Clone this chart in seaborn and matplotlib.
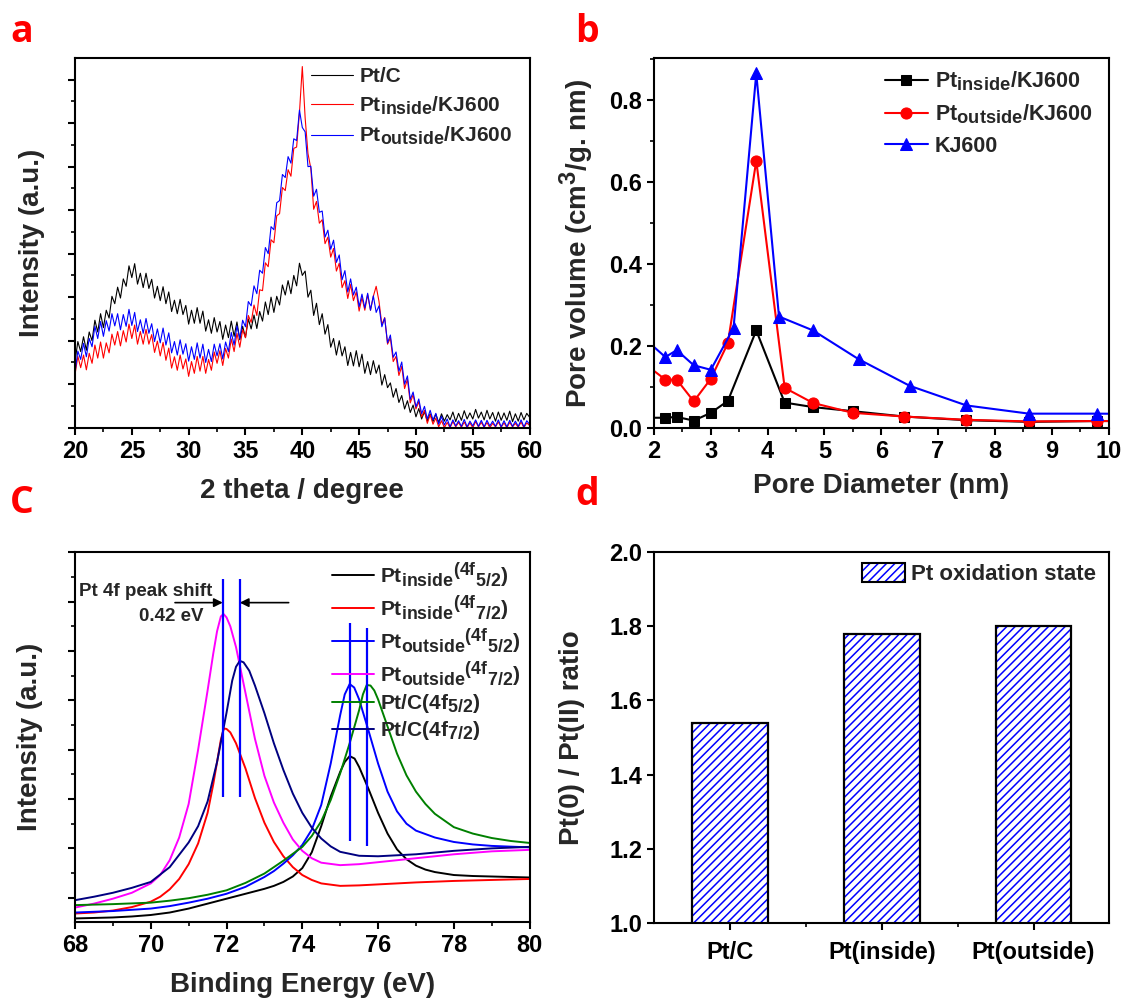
import numpy as np
import pandas as pd
import matplotlib
matplotlib.use("Agg")
import matplotlib.pyplot as plt
import matplotlib.patches as mpatches
from matplotlib.ticker import MultipleLocator, NullFormatter, FixedLocator, FormatStrFormatter
from matplotlib.legend_handler import HandlerTuple
import seaborn as sns

try:  # larger sub/superscripts, closer to the original figure
    import matplotlib._mathtext as _mt
    _mt.SHRINK_FACTOR = 0.85
except Exception:
    pass

# ------------------------------------------------------------------ data
# (a) XRD, 2theta from 20 to 60 in 0.25 deg steps
xrd_theta = np.arange(20, 60.001, 0.25)
xrd_ptc = [
    1.52, 1.98, 1.75, 2.09, 1.78, 2.20, 2.00, 2.47, 2.20, 2.62, 2.30, 2.70,
    2.52, 3.02, 2.85, 3.23, 2.98, 3.42, 3.25, 3.72, 3.45, 3.77, 3.30, 3.55,
    3.22, 3.55, 3.20, 3.41, 2.98, 3.25, 2.92, 3.24, 2.85, 3.12, 2.67, 2.93,
    2.62, 2.95, 2.60, 2.81, 2.38, 2.70, 2.40, 2.76, 2.40, 2.68, 2.22, 2.48,
    2.17, 2.53, 2.20, 2.44, 2.03, 2.36, 2.07, 2.45, 2.10, 2.43, 2.02, 2.33,
    2.07, 2.50, 2.27, 2.59, 2.28, 2.67, 2.45, 2.89, 2.60, 3.00, 2.65, 3.02,
    2.82, 3.28, 3.05, 3.38, 3.08, 3.50, 3.26, 3.78, 3.50, 3.60, 3.00, 3.16,
    2.58, 2.86, 2.37, 2.62, 2.15, 2.37, 1.85, 2.05, 1.67, 2.00, 1.65, 1.86,
    1.43, 1.73, 1.42, 1.77, 1.40, 1.69, 1.25, 1.52, 1.22, 1.54, 1.25, 1.44,
    0.98, 1.22, 0.92, 1.03, 0.70, 0.90, 0.58, 0.74, 0.43, 0.62, 0.35, 0.52,
    0.25, 0.44, 0.20, 0.37, 0.15, 0.32, 0.14, 0.31, 0.12, 0.32, 0.15, 0.30,
    0.18, 0.36, 0.14, 0.33, 0.17, 0.39, 0.20, 0.34, 0.20, 0.42, 0.22, 0.36,
    0.18, 0.40, 0.20, 0.35, 0.15, 0.36, 0.17, 0.34, 0.17, 0.38, 0.14, 0.32,
    0.15, 0.35, 0.18, 0.33, 0.24]
xrd_inside = [
    1.22, 1.64, 1.38, 1.67, 1.33, 1.71, 1.48, 1.90, 1.60, 1.97, 1.60, 1.95,
    1.72, 2.15, 1.90, 2.21, 1.88, 2.23, 1.97, 2.38, 2.05, 2.36, 1.92, 2.21,
    1.92, 2.26, 1.92, 2.14, 1.73, 1.99, 1.65, 1.96, 1.55, 1.83, 1.37, 1.63,
    1.32, 1.67, 1.35, 1.58, 1.18, 1.52, 1.25, 1.64, 1.30, 1.64, 1.25, 1.57,
    1.32, 1.74, 1.48, 1.77, 1.43, 1.82, 1.60, 2.04, 1.75, 2.17, 1.85, 2.25,
    2.07, 2.58, 2.42, 2.82, 2.58, 3.17, 3.15, 3.79, 3.70, 4.32, 4.25, 4.87,
    4.92, 5.52, 5.45, 5.93, 5.78, 6.42, 6.45, 7.24, 8.30, 7.12, 6.30, 5.96,
    5.02, 5.20, 4.70, 4.78, 4.23, 4.38, 3.92, 4.12, 3.60, 3.78, 3.22, 3.38,
    2.97, 3.29, 2.92, 3.12, 2.68, 2.99, 2.70, 3.06, 2.70, 3.02, 3.25, 2.90,
    2.37, 2.53, 1.92, 2.06, 1.52, 1.64, 1.20, 1.41, 0.90, 1.11, 0.57, 0.76,
    0.43, 0.60, 0.25, 0.40, 0.10, 0.30, 0.08, 0.22, 0.02, 0.16, 0.00, 0.12,
    0.00, 0.14, 0.02, 0.12, 0.01, 0.13, 0.00, 0.11, 0.00, 0.14, 0.02, 0.12,
    0.01, 0.12, 0.00, 0.10, 0.02, 0.13, 0.01, 0.11, 0.00, 0.12, 0.02, 0.10,
    0.01, 0.13, 0.00, 0.11, 0.05]
xrd_outside = [
    1.27, 1.76, 1.57, 1.94, 1.63, 2.05, 1.86, 2.33, 2.05, 2.44, 2.10, 2.46,
    2.22, 2.62, 2.34, 2.62, 2.25, 2.60, 2.33, 2.72, 2.35, 2.65, 2.21, 2.48,
    2.17, 2.51, 2.17, 2.39, 1.98, 2.27, 1.95, 2.29, 1.90, 2.18, 1.72, 1.98,
    1.67, 2.02, 1.69, 1.93, 1.53, 1.86, 1.57, 1.95, 1.60, 1.92, 1.50, 1.80,
    1.52, 1.92, 1.65, 1.93, 1.58, 1.97, 1.75, 2.19, 1.90, 2.34, 2.05, 2.47,
    2.32, 2.90, 2.80, 3.26, 3.08, 3.62, 3.55, 4.14, 4.00, 4.62, 4.55, 5.17,
    5.22, 5.82, 5.75, 6.23, 6.08, 6.64, 6.60, 7.30, 6.90, 6.80, 6.00, 6.01,
    5.32, 5.48, 4.95, 4.98, 4.38, 4.54, 4.10, 4.31, 3.80, 3.97, 3.40, 3.61,
    3.12, 3.42, 3.05, 3.23, 2.78, 3.07, 2.75, 3.09, 2.70, 3.03, 2.65, 2.80,
    2.32, 2.52, 1.95, 2.13, 1.62, 1.74, 1.30, 1.51, 1.00, 1.19, 0.65, 0.82,
    0.48, 0.66, 0.32, 0.49, 0.20, 0.40, 0.18, 0.33, 0.08, 0.26, 0.06, 0.20,
    0.02, 0.18, 0.04, 0.16, 0.03, 0.19, 0.02, 0.15, 0.04, 0.18, 0.03, 0.17,
    0.02, 0.17, 0.04, 0.15, 0.03, 0.18, 0.02, 0.16, 0.02, 0.17, 0.03, 0.15,
    0.03, 0.18, 0.02, 0.16, 0.08]

# (b) pore size distribution
pore_d_inside = [1.9, 2.2, 2.4, 2.7, 3.0, 3.3, 3.8, 4.3, 4.8, 5.5, 6.4, 7.5, 8.6, 9.8, 10.9]
pore_v_inside = [0.025, 0.025, 0.027, 0.018, 0.037, 0.066, 0.238, 0.062, 0.051, 0.041,
                 0.028, 0.019, 0.015, 0.017, 0.017]
pore_d_outside = [1.9, 2.2, 2.4, 2.7, 3.0, 3.3, 3.8, 4.3, 4.8, 5.5, 6.4, 7.5, 8.6, 9.8, 10.9]
pore_v_outside = [0.150, 0.118, 0.118, 0.065, 0.120, 0.207, 0.652, 0.098, 0.061, 0.037,
                  0.028, 0.020, 0.016, 0.017, 0.017]
pore_d_kj = [1.9, 2.2, 2.4, 2.7, 3.0, 3.4, 3.8, 4.2, 4.8, 5.6, 6.5, 7.5, 8.6, 9.8, 10.9]
pore_v_kj = [0.210, 0.173, 0.190, 0.153, 0.142, 0.244, 0.865, 0.272, 0.238, 0.168,
             0.103, 0.055, 0.035, 0.035, 0.034]

# (c) XPS Pt 4f
xps_in52_x = [68, 68.5, 69, 69.5, 70, 70.5, 71, 71.5, 72, 72.5, 73, 73.25, 73.5, 73.75, 74,
              74.25, 74.5, 74.75, 75, 75.12, 75.25, 75.38, 75.5, 75.75, 76, 76.25, 76.5,
              76.75, 77, 77.25, 77.5, 78, 78.5, 79, 80]
xps_in52_y = [-0.42, -0.41, -0.40, -0.38, -0.35, -0.30, -0.22, -0.12, -0.02, 0.08, 0.18,
              0.24, 0.32, 0.43, 0.60, 0.92, 1.45, 2.05, 2.55, 2.75, 2.87, 2.82, 2.65, 2.20,
              1.72, 1.30, 0.98, 0.78, 0.65, 0.57, 0.52, 0.46, 0.44, 0.43, 0.41]
xps_in72_x = [68, 68.5, 69, 69.5, 70, 70.25, 70.5, 70.75, 71, 71.25, 71.5, 71.65, 71.75,
              71.85, 71.93, 72.0, 72.1, 72.25, 72.5, 72.75, 73, 73.25, 73.5, 73.75, 74,
              74.25, 74.5, 75, 75.5, 76, 77, 78, 79, 80]
xps_in72_y = [-0.32, -0.30, -0.26, -0.19, -0.08, 0.02, 0.17, 0.38, 0.68, 1.10, 1.72, 2.30,
              2.75, 3.20, 3.43, 3.42, 3.35, 3.13, 2.62, 2.02, 1.52, 1.13, 0.84, 0.62, 0.46,
              0.36, 0.29, 0.24, 0.25, 0.27, 0.31, 0.34, 0.36, 0.38]
xps_out52_x = [68, 69, 70, 70.5, 71, 71.5, 72, 72.5, 73, 73.25, 73.5, 73.75, 74, 74.25, 74.5,
               74.75, 75.0, 75.12, 75.25, 75.37, 75.5, 75.75, 76, 76.25, 76.5, 76.75, 77,
               77.5, 78, 78.5, 79, 80]
xps_out52_y = [-0.30, -0.27, -0.22, -0.17, -0.10, -0.02, 0.08, 0.22, 0.42, 0.54, 0.69, 0.86,
               1.07, 1.38, 1.88, 2.72, 3.70, 4.12, 4.33, 4.26, 4.02, 3.38, 2.72, 2.15, 1.75,
               1.50, 1.36, 1.22, 1.13, 1.08, 1.05, 1.02]
xps_out72_x = [68, 68.5, 69, 69.5, 70, 70.25, 70.5, 70.75, 71, 71.25, 71.5, 71.65, 71.75,
               71.85, 71.92, 72.0, 72.1, 72.25, 72.5, 72.75, 73, 73.25, 73.5, 73.75, 74,
               74.25, 74.5, 75, 75.5, 76, 77, 78, 79, 80]
xps_out72_y = [-0.20, -0.12, -0.02, 0.10, 0.29, 0.46, 0.76, 1.22, 1.90, 3.00, 4.20, 4.95,
               5.40, 5.70, 5.75, 5.68, 5.50, 5.08, 4.15, 3.22, 2.47, 1.93, 1.52, 1.18, 0.95,
               0.80, 0.71, 0.66, 0.68, 0.72, 0.80, 0.88, 0.94, 0.97]
xps_c52_x = [68, 69, 70, 70.5, 71, 71.5, 72, 72.5, 73, 73.5, 74, 74.25, 74.5, 74.75, 75,
             75.25, 75.5, 75.6, 75.7, 75.8, 75.9, 76, 76.25, 76.5, 76.75, 77, 77.25, 77.5,
             78, 78.5, 79, 79.5, 80]
xps_c52_y = [-0.15, -0.13, -0.10, -0.06, -0.01, 0.06, 0.15, 0.30, 0.49, 0.75, 1.03, 1.25,
             1.55, 1.98, 2.52, 3.13, 3.80, 4.12, 4.31, 4.30, 4.20, 4.02, 3.47, 2.92, 2.48,
             2.15, 1.90, 1.70, 1.43, 1.30, 1.21, 1.15, 1.11]
xps_c72_x = [68, 68.5, 69, 69.5, 70, 70.5, 71, 71.25, 71.5, 71.75, 72, 72.15, 72.25, 72.35,
             72.45, 72.6, 72.75, 73, 73.25, 73.5, 73.75, 74, 74.25, 74.5, 74.75, 75, 75.5,
             76, 76.5, 77, 78, 79, 80]
xps_c72_y = [-0.05, 0.02, 0.10, 0.20, 0.32, 0.62, 1.12, 1.45, 1.95, 2.75, 3.75, 4.40, 4.68,
             4.80, 4.77, 4.60, 4.30, 3.74, 3.13, 2.59, 2.11, 1.72, 1.42, 1.20, 1.04, 0.93,
             0.85, 0.84, 0.86, 0.88, 0.95, 1.00, 1.03]
peak_marks = [71.9, 72.35, 75.25, 75.7]
peak_mark_lo = [2.05, 2.05, 1.15, 1.05]
peak_mark_hi = [6.46, 6.46, 5.56, 5.47]

# (d) oxidation state ratio
ratio_labels = ["Pt/C", "Pt(inside)", "Pt(outside)"]
ratio_values = [1.54, 1.78, 1.80]

# ------------------------------------------------------------------ style
sns.set_theme(style="ticks")
plt.rcParams.update({
    "font.family": ["Liberation Sans", "DejaVu Sans"],
    "font.weight": "bold",
    "axes.labelweight": "bold",
    "axes.linewidth": 1.5,
    "axes.edgecolor": "black",
    "xtick.color": "black", "ytick.color": "black",
    "xtick.direction": "out", "ytick.direction": "out",
    "xtick.major.size": 5, "ytick.major.size": 5,
    "xtick.minor.size": 3, "ytick.minor.size": 3,
    "xtick.major.width": 1.5, "ytick.major.width": 1.5,
    "xtick.minor.width": 1.2, "ytick.minor.width": 1.2,
    "xtick.labelsize": 17, "ytick.labelsize": 17,
    "axes.labelsize": 20,
    "mathtext.fontset": "custom",
    "mathtext.rm": "Liberation Sans:bold",
    "mathtext.it": "Liberation Sans:bold",
    "mathtext.bf": "Liberation Sans:bold",
    "mathtext.sf": "Liberation Sans:bold",
    "hatch.linewidth": 1.1,
})

W, H = 1123, 998
fig = plt.figure(figsize=(W / 100, H / 100), dpi=100)


def axes_px(left, top, right, bottom):
    return fig.add_axes([left / W, 1 - bottom / H, (right - left) / W, (bottom - top) / H])


ax_a = axes_px(75, 58.3, 529.6, 427.7)
ax_b = axes_px(654, 58.3, 1108.5, 428)
ax_c = axes_px(75, 552.3, 529.6, 921.7)
ax_d = axes_px(654, 552.3, 1109.4, 922.7)

for ax in (ax_a, ax_b, ax_c, ax_d):
    for s in ax.spines.values():
        s.set_visible(True)
        s.set_linewidth(1.5)
        s.set_color("black")
    ax.tick_params(which="both", top=False, right=False)

# ------------------------------------------------------------------ (a)
df_a = pd.DataFrame({
    "theta": np.concatenate([xrd_theta] * 3),
    "I": np.concatenate([xrd_ptc, xrd_inside, xrd_outside]),
    "s": ["Pt/C"] * len(xrd_theta) + ["in"] * len(xrd_theta) + ["out"] * len(xrd_theta),
})
sns.lineplot(data=df_a, x="theta", y="I", hue="s", hue_order=["Pt/C", "in", "out"],
             palette=["black", "#ff0000", "#0000ff"], estimator=None, linewidth=0.8,
             ax=ax_a, legend=False)
ax_a.set_xlim(20, 60)
ax_a.set_ylim(0, 8.49)
ax_a.xaxis.set_major_locator(MultipleLocator(5))
ax_a.xaxis.set_minor_locator(MultipleLocator(2.5))
ax_a.yaxis.set_major_locator(MultipleLocator(1))
ax_a.yaxis.set_minor_locator(MultipleLocator(0.5))
ax_a.yaxis.set_major_formatter(NullFormatter())
ax_a.set_xlabel("2 theta / degree")
ax_a.set_ylabel("Intensity (a.u.)")
ax_a.xaxis.set_label_coords(0.5, -0.136)
ax_a.yaxis.set_label_coords(-0.066, 0.5)
lines = ax_a.get_lines()
ax_a.legend(lines[:3], ["Pt/C", "Pt$_{inside}$/KJ600", "Pt$_{outside}$/KJ600"],
            loc="upper left", bbox_to_anchor=(0.519, 0.976), borderaxespad=0, borderpad=0,
            frameon=False, fontsize=15, handlelength=2.0, handletextpad=0.33,
            labelspacing=0.4)

# ------------------------------------------------------------------ (b)
sns.lineplot(x=pore_d_inside, y=pore_v_inside, ax=ax_b, color="black", marker="s",
             markersize=7, markeredgecolor="black", linewidth=1.5, label="Pt$_{inside}$/KJ600")
sns.lineplot(x=pore_d_outside, y=pore_v_outside, ax=ax_b, color="#ff0000", marker="o",
             markersize=8, markeredgecolor="#ff0000", linewidth=1.5, label="Pt$_{outside}$/KJ600")
sns.lineplot(x=pore_d_kj, y=pore_v_kj, ax=ax_b, color="#0000ff", marker="^",
             markersize=8.5, markeredgecolor="#0000ff", linewidth=1.5, label="KJ600")
ax_b.set_xlim(2, 10)
ax_b.set_ylim(0, 0.902)
ax_b.xaxis.set_major_locator(MultipleLocator(1))
ax_b.xaxis.set_minor_locator(MultipleLocator(0.5))
ax_b.yaxis.set_major_locator(MultipleLocator(0.2))
ax_b.yaxis.set_minor_locator(MultipleLocator(0.1))
ax_b.set_xlabel("Pore Diameter (nm)")
ax_b.set_ylabel("Pore volume (cm$^3$/g. nm)")
ax_b.xaxis.set_label_coords(0.5, -0.122)
ax_b.yaxis.set_label_coords(-0.128, 0.5)
ax_b.legend(loc="upper left", bbox_to_anchor=(0.508, 0.970), borderaxespad=0, borderpad=0,
            frameon=False, fontsize=15.5, handlelength=2.0, handletextpad=0.33,
            labelspacing=0.45)

# ------------------------------------------------------------------ (c)
c_series = [
    (xps_in52_x, xps_in52_y, "black", "Pt$_{inside}$$^{(4f}$$_{5/2}$)"),
    (xps_in72_x, xps_in72_y, "#ff0000", "Pt$_{inside}$$^{(4f}$$_{7/2}$)"),
    (xps_out52_x, xps_out52_y, "#0000ff", "Pt$_{outside}$$^{(4f}$$_{5/2}$)"),
    (xps_out72_x, xps_out72_y, "#ff00ff", "Pt$_{outside}$$^{(4f}$$_{7/2}$)"),
    (xps_c52_x, xps_c52_y, "#008000", "Pt/C(4f$_{5/2}$)"),
    (xps_c72_x, xps_c72_y, "#000080", "Pt/C(4f$_{7/2}$)"),
]
for xs, ys, col, lab in c_series:
    sns.lineplot(x=xs, y=ys, ax=ax_c, color=col, linewidth=1.4, label=lab, sort=False)
ax_c.vlines(peak_marks, peak_mark_lo, peak_mark_hi, colors="#0000ff", linewidth=1.6, zorder=4)
ax_c.annotate("", xy=(peak_marks[0], 5.98), xytext=(70.64, 5.98),
              arrowprops=dict(arrowstyle="-|>", color="black", lw=1.2,
                              shrinkA=0, shrinkB=0, mutation_scale=13))
ax_c.annotate("", xy=(peak_marks[1], 5.98), xytext=(73.64, 5.98),
              arrowprops=dict(arrowstyle="-|>", color="black", lw=1.2,
                              shrinkA=0, shrinkB=0, mutation_scale=13))
ax_c.text(68.11, 6.2, "Pt 4f peak shift", fontsize=13.5, fontweight="bold",
          ha="left", va="center")
ax_c.text(69.68, 5.7, "0.42 eV", fontsize=13.5, fontweight="bold", ha="left", va="center")
ax_c.set_xlim(68, 80)
ax_c.set_ylim(-0.486, 7.0)
ax_c.xaxis.set_major_locator(MultipleLocator(2))
ax_c.xaxis.set_minor_locator(MultipleLocator(1))
ax_c.yaxis.set_major_locator(MultipleLocator(1))
ax_c.yaxis.set_minor_locator(MultipleLocator(0.5))
ax_c.yaxis.set_major_formatter(NullFormatter())
ax_c.set_xlabel("Binding Energy (eV)")
ax_c.set_ylabel("Intensity (a.u.)")
ax_c.xaxis.set_label_coords(0.5, -0.135)
ax_c.yaxis.set_label_coords(-0.070, 0.5)
ax_c.legend(loc="upper left", bbox_to_anchor=(0.565, 0.980), borderaxespad=0, borderpad=0,
            frameon=False, fontsize=15, handlelength=2.0, handletextpad=0.3,
            labelspacing=0.2)

# ------------------------------------------------------------------ (d)
sns.barplot(x=ratio_labels, y=ratio_values, ax=ax_d, color="white", edgecolor="#0000ff",
            hatch="////", linewidth=0, width=0.5, errorbar=None, saturation=1)
sns.barplot(x=ratio_labels, y=ratio_values, ax=ax_d, color="black", fill=False,
            linewidth=1.6, width=0.5, errorbar=None, saturation=1)
ax_d.set_ylim(1.0, 2.0)
ax_d.set_xlim(-0.5, 2.5)
ax_d.yaxis.set_major_locator(MultipleLocator(0.2))
ax_d.yaxis.set_major_formatter(FormatStrFormatter("%.1f"))
ax_d.xaxis.set_minor_locator(FixedLocator([0.5, 1.5]))
ax_d.set_xlabel("")
ax_d.set_ylabel("Pt(0) / Pt(II) ratio")
ax_d.yaxis.set_label_coords(-0.152, 0.5)
ax_d.tick_params(axis="x", pad=8)
p_hatch = mpatches.Patch(facecolor="white", edgecolor="#0000ff", hatch="////", linewidth=0)
p_edge = mpatches.Patch(facecolor="none", edgecolor="black", linewidth=1.5)
ax_d.legend([(p_hatch, p_edge)], ["Pt oxidation state"],
            handler_map={tuple: HandlerTuple(ndivide=1, pad=0)},
            loc="upper left", bbox_to_anchor=(0.456, 0.971), borderaxespad=0, borderpad=0,
            frameon=False, fontsize=16, handlelength=1.94, handleheight=0.95,
            handletextpad=0.28)

# ------------------------------------------------------------------ panel letters
for letter, x, y in [("a", 10, 42), ("b", 575, 42), ("C", 10, 513), ("d", 575, 505)]:
    fig.text(x / W, 1 - y / H, letter, color="#ff0000", fontsize=27, fontweight="bold",
             family=["Open Sans", "DejaVu Sans"], ha="left", va="baseline")

fig.savefig("out.png", dpi=100)
